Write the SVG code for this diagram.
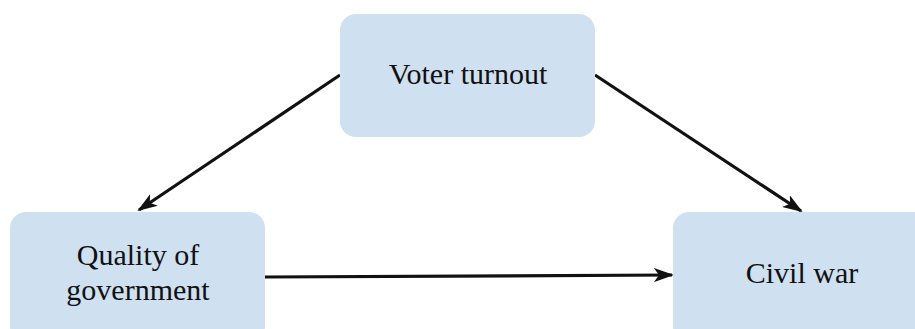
<svg xmlns="http://www.w3.org/2000/svg" width="915" height="329" viewBox="0 0 915 329">
<style>
.box{fill:#cfe0f1;}
.lbl{font-family:"Liberation Serif","Times New Roman",serif;font-size:30px;fill:#111;text-anchor:middle;}
.edge{stroke:#111;stroke-width:3.2;fill:none;marker-end:url(#arr);}
</style>
<defs>
<marker id="arr" viewBox="0 0 20 14" refX="18" refY="7" markerWidth="20" markerHeight="14" markerUnits="userSpaceOnUse" orient="auto">
<path d="M0,0 L20,7 L0,14 L5,7 Z" fill="#111"/>
</marker>
</defs>
<rect width="915" height="329" fill="#fff"/>
<g id="edges">
<line class="edge" x1="340" y1="75" x2="139" y2="210"/>
<line class="edge" x1="595" y1="75" x2="801" y2="211"/>
<line class="edge" x1="265" y1="277" x2="672" y2="275"/>
</g>
<g id="voter">
<rect class="box" x="340" y="14" width="255" height="123" rx="16"/>
<text class="lbl" x="468" y="84">Voter turnout</text>
</g>
<g id="quality">
<rect class="box" x="10" y="212" width="255" height="130" rx="16"/>
<text class="lbl" x="138" y="265">Quality of</text>
<text class="lbl" x="138" y="300">government</text>
</g>
<g id="civil">
<rect class="box" x="673" y="212" width="258" height="130" rx="16"/>
<text class="lbl" x="802" y="283">Civil war</text>
</g>
</svg>
